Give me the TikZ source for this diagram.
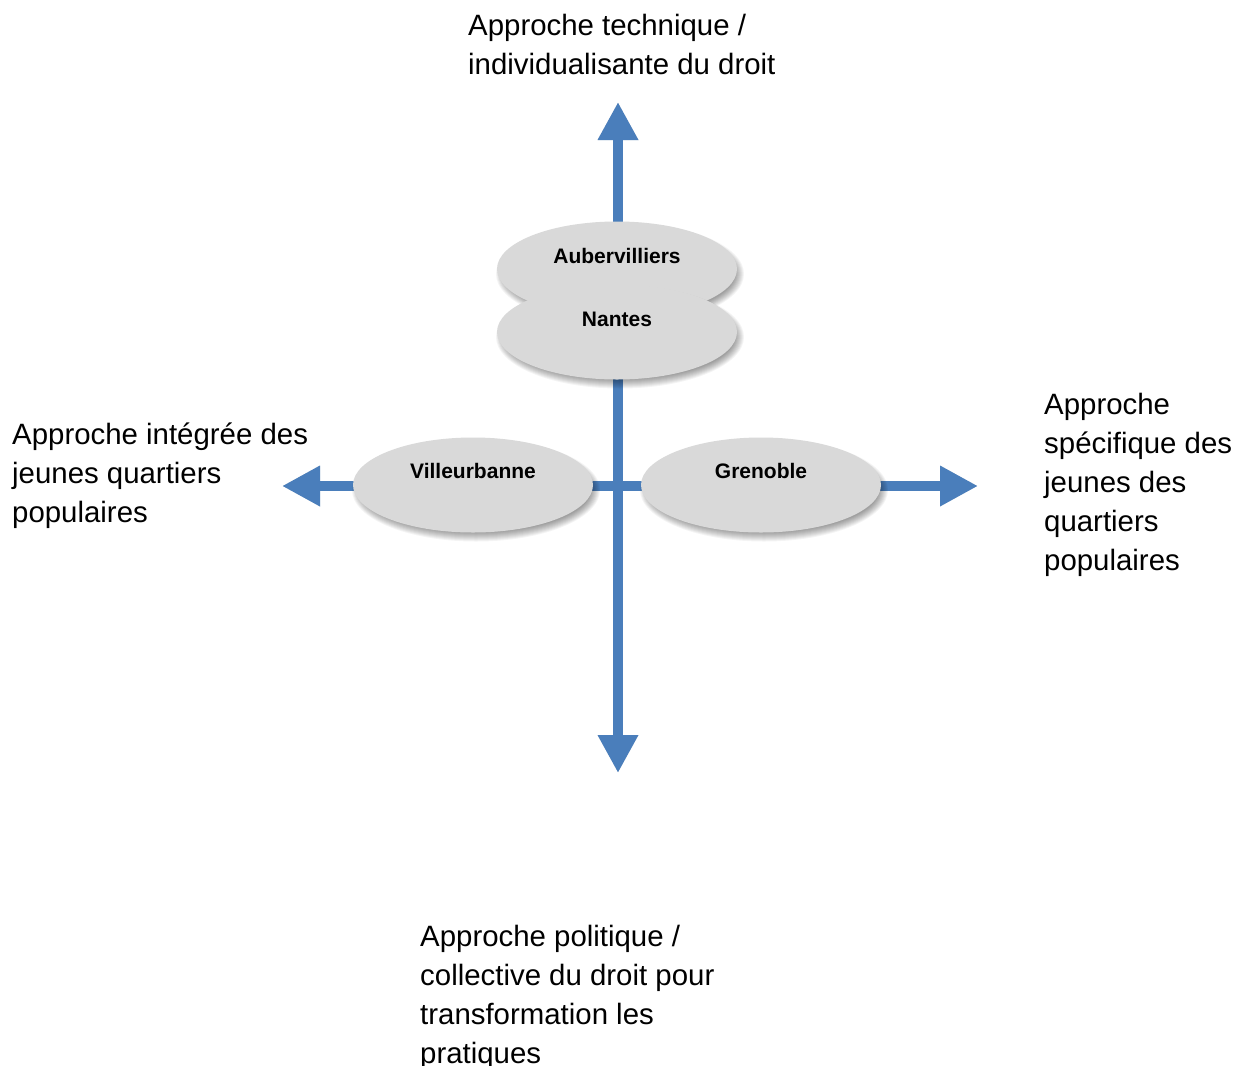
\documentclass[tikz,border=0pt]{standalone}
\usepackage{fontspec}
\setmainfont{Liberation Sans}
\usetikzlibrary{arrows.meta,shapes.geometric,calc}
\definecolor{axisblue}{HTML}{4A7EBB}
\definecolor{ellgray}{HTML}{D9D9D9}
\newcommand{\softshadow}[1]{%
  \foreach \k in {-5,...,4}{%
    \fill[black,opacity=0.045] ($(#1)+(3,5)$) ellipse [x radius=120+\k, y radius=47.5+\k];
  }}
\begin{document}
\begin{tikzpicture}[x=1pt,y=-1pt,
  axis/.style={draw=axisblue,line width=10pt,-{Triangle[width=38pt,length=38pt]}},
  axisshadow/.style={draw=black,opacity=0.10,line width=10pt,-{Triangle[width=38pt,length=38pt]}},
  city/.style={ellipse,minimum width=240pt,minimum height=95pt,inner sep=0pt,
    fill=ellgray,draw=none},
  cityname/.style={font=\fontsize{21}{25}\selectfont\bfseries,inner sep=0pt},
  lab/.style={anchor=north west,inner sep=0pt,align=left,
    font=\fontsize{29.4}{39}\selectfont}
]
\useasboundingbox (0,0) rectangle (1243,1066);
\fill[white] (0,0) rectangle (1243,1066);

\coordinate (c) at (618,486);
\coordinate (up) at (618,102);
\coordinate (down) at (618,773);
\coordinate (left) at (282,486);
\coordinate (right) at (978,486);

\begin{scope}[shift={(3pt,-4pt)}]
\draw[axisshadow] (c) -- (up);
\draw[axisshadow] (c) -- (down);
\draw[axisshadow] (c) -- (left);
\draw[axisshadow] (c) -- (right);
\end{scope}
\draw[axis] (c) -- (up);
\draw[axis] (c) -- (down);
\draw[axis] (c) -- (left);
\draw[axis] (c) -- (right);

\coordinate (aubc) at (617,269);
\coordinate (nanc) at (617,332);
\coordinate (vilc) at (473,485);
\coordinate (grec) at (761,485);

\softshadow{aubc}
\node[city] (aub) at (aubc) {};
\node[cityname] (aubt) at ($(aub.center)+(0,-13)$) {Aubervilliers};
\softshadow{nanc}
\node[city] (nan) at (nanc) {};
\node[cityname] (nant) at ($(nan.center)+(0,-13)$) {Nantes};
\softshadow{vilc}
\node[city] (vil) at (vilc) {};
\node[cityname] (vilt) at ($(vil.center)+(0,-14)$) {Villeurbanne};
\softshadow{grec}
\node[city] (gre) at (grec) {};
\node[cityname] (gret) at ($(gre.center)+(0,-14)$) {Grenoble};

\node[lab] (ltop) at (468,14) {Approche technique /\\individualisante du droit};
\node[lab] (lleft) at (12,423) {Approche intégrée des\\jeunes quartiers\\populaires};
\node[lab] (lright) at (1044,393) {Approche\\spécifique des\\jeunes des\\quartiers\\populaires};
\node[lab] (lbot) at (420,925) {Approche politique /\\collective du droit pour\\transformation les\\pratiques};
\end{tikzpicture}
\end{document}
